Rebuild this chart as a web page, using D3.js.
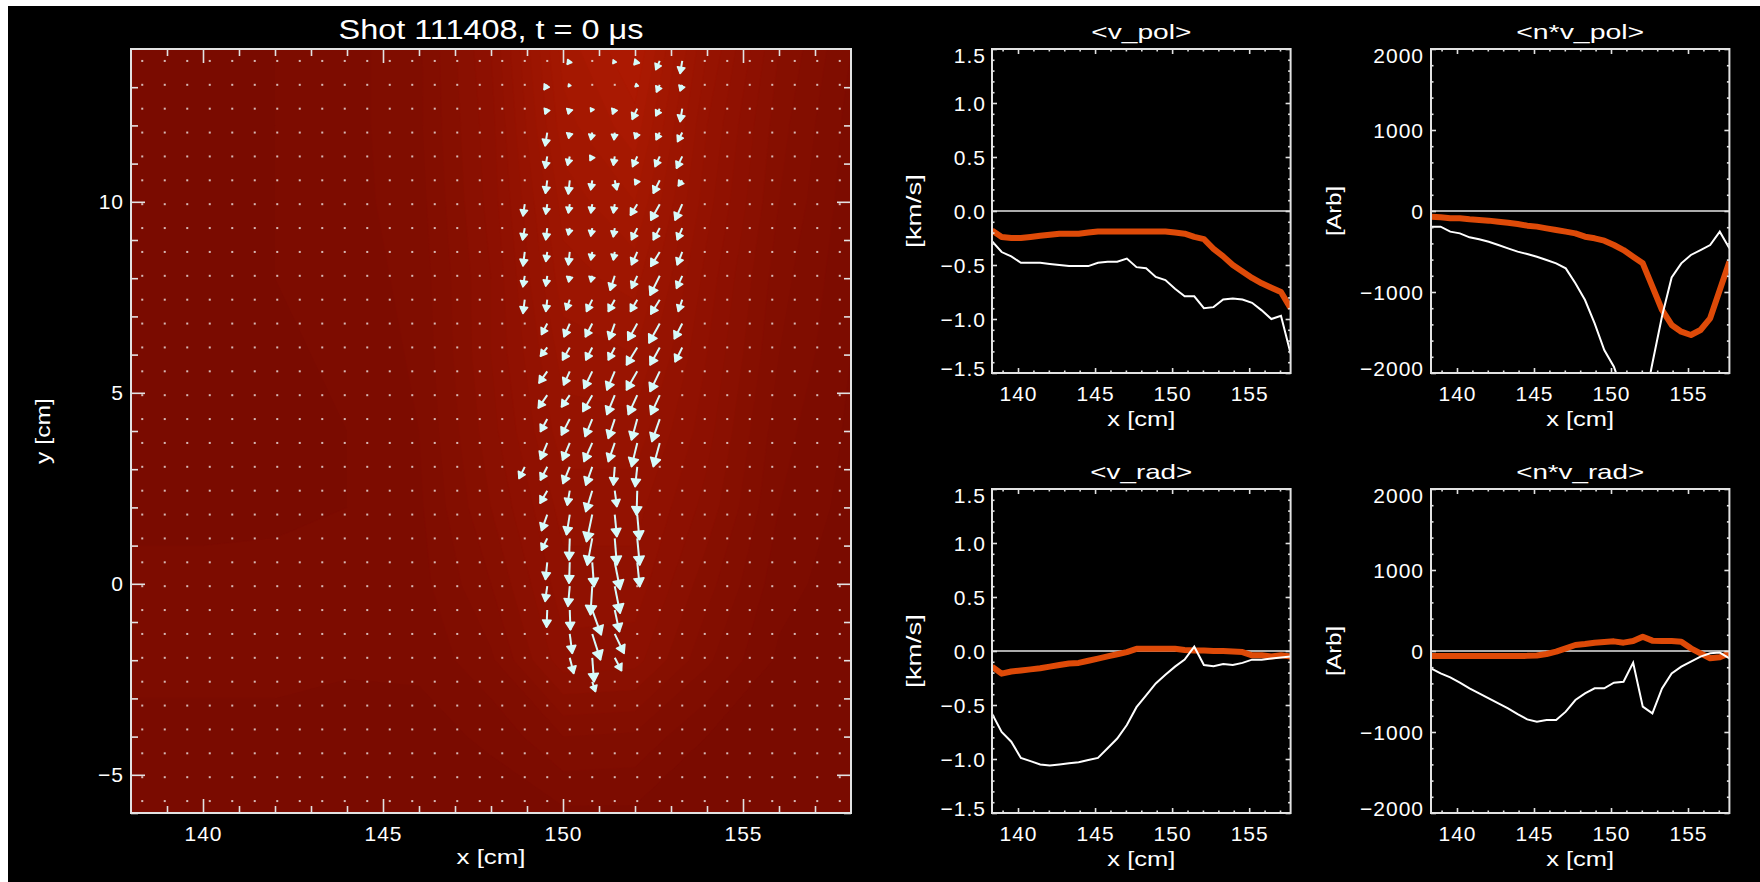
<!DOCTYPE html>
<html>
<head>
<meta charset="utf-8">
<script src="https://cdn.jsdelivr.net/npm/d3@7"></script>
<style>
  html, body { margin: 0; padding: 0; background: #000; }
  svg { display: block; }
  text { font-family: "Liberation Sans", Arial, sans-serif; fill: #fff; }
</style>
</head>
<body>
<svg id="chart" width="1760" height="882"></svg>
<script>
// ---- data ----
const shotTitle = "Shot 111408, t = 0 \u03bcs";

// probe grid (cm)
const gridX = [138.3125, 138.9375, 139.5625, 140.1875, 140.8125, 141.4375, 142.0625, 142.6875,
  143.3125, 143.9375, 144.5625, 145.1875, 145.8125, 146.4375, 147.0625, 147.6875,
  148.3125, 148.9375, 149.5625, 150.1875, 150.8125, 151.4375, 152.0625, 152.6875,
  153.3125, 153.9375, 154.5625, 155.1875, 155.8125, 156.4375, 157.0625, 157.6875];
const gridY = [13.6875, 13.0625, 12.4375, 11.8125, 11.1875, 10.5625, 9.9375, 9.3125,
  8.6875, 8.0625, 7.4375, 6.8125, 6.1875, 5.5625, 4.9375, 4.3125,
  3.6875, 3.0625, 2.4375, 1.8125, 1.1875, 0.5625, -0.0625, -0.6875,
  -1.3125, -1.9375, -2.5625, -3.1875, -3.8125, -4.4375, -5.0625, -5.6875];

// coarse density map behind the vectors (relative units)
const densX = [138, 140, 142, 144, 146, 148, 150, 152, 154, 156, 158];
const densY = [14, 12, 10, 8, 6, 4, 2, 0, -2, -4, -6];
const densRows = [
  [0.02, 0.03, 0.05, 0.08, 0.14, 0.35, 0.72, 0.85, 0.50, 0.25, 0.10],
  [0.02, 0.03, 0.05, 0.08, 0.14, 0.33, 0.68, 0.78, 0.45, 0.22, 0.08],
  [0.02, 0.03, 0.05, 0.08, 0.13, 0.32, 0.62, 0.70, 0.42, 0.20, 0.07],
  [0.02, 0.03, 0.05, 0.07, 0.12, 0.30, 0.58, 0.62, 0.38, 0.17, 0.06],
  [0.02, 0.03, 0.04, 0.06, 0.11, 0.30, 0.52, 0.55, 0.35, 0.15, 0.05],
  [0.02, 0.02, 0.04, 0.05, 0.10, 0.28, 0.48, 0.48, 0.32, 0.12, 0.04],
  [0.02, 0.02, 0.03, 0.05, 0.09, 0.25, 0.42, 0.42, 0.28, 0.10, 0.03],
  [0.08, 0.08, 0.08, 0.07, 0.08, 0.20, 0.38, 0.38, 0.22, 0.07, 0.02],
  [0.08, 0.08, 0.08, 0.06, 0.06, 0.14, 0.33, 0.32, 0.16, 0.04, 0.02],
  [0.02, 0.02, 0.02, 0.02, 0.03, 0.06, 0.15, 0.14, 0.05, 0.02, 0.02],
  [0.01, 0.01, 0.01, 0.01, 0.01, 0.02, 0.04, 0.04, 0.02, 0.01, 0.01]
];

// velocity vectors: [column, row, u (cm), v (cm)]; all other grid points are zero
const arrows = [
  [19,0,-0.07,-0.09],[21,0,-0.05,-0.07],[22,0,-0.09,-0.10],[23,0,-0.11,-0.23],[24,0,-0.06,-0.33],
  [18,1,-0.09,-0.13],[19,1,-0.04,-0.05],[22,1,-0.06,-0.05],[23,1,-0.09,-0.19],[24,1,-0.06,-0.16],
  [18,2,-0.06,-0.14],[19,2,-0.04,-0.14],[20,2,-0.04,-0.08],[21,2,-0.06,-0.14],[22,2,-0.14,-0.28],[23,2,-0.11,-0.19],[24,2,-0.06,-0.34],
  [18,3,-0.06,-0.35],[19,3,-0.03,-0.15],[20,3,-0.04,-0.19],[21,3,-0.02,-0.19],[22,3,-0.06,-0.16],[23,3,-0.10,-0.19],[24,3,-0.13,-0.24],
  [18,4,-0.06,-0.31],[19,4,-0.06,-0.23],[20,4,-0.06,-0.11],[21,4,-0.04,-0.23],[22,4,-0.13,-0.27],[23,4,-0.13,-0.27],[24,4,-0.16,-0.31],
  [18,5,-0.05,-0.34],[19,5,-0.04,-0.36],[20,5,-0.04,-0.25],[21,5,0.06,-0.25],[22,5,-0.06,-0.12],[23,5,-0.18,-0.34],[24,5,-0.11,-0.15],
  [17,6,-0.05,-0.31],[18,6,-0.04,-0.26],[19,6,-0.04,-0.23],[20,6,-0.04,-0.23],[21,6,-0.04,-0.23],[22,6,-0.19,-0.29],[23,6,-0.25,-0.42],[24,6,-0.20,-0.42],
  [17,7,-0.06,-0.31],[18,7,-0.04,-0.31],[19,7,-0.04,-0.18],[20,7,-0.04,-0.21],[21,7,-0.04,-0.23],[22,7,-0.16,-0.31],[23,7,-0.18,-0.31],[24,7,-0.14,-0.31],
  [17,8,-0.05,-0.37],[18,8,-0.04,-0.25],[19,8,-0.04,-0.34],[20,8,-0.04,-0.21],[21,8,-0.04,-0.21],[22,8,-0.16,-0.34],[23,8,-0.25,-0.38],[24,8,-0.14,-0.34],
  [17,9,-0.05,-0.29],[18,9,-0.04,-0.27],[19,9,-0.03,-0.16],[20,9,-0.04,-0.16],[21,9,-0.13,-0.38],[22,9,-0.16,-0.33],[23,9,-0.27,-0.51],[24,9,-0.16,-0.33],
  [17,10,-0.05,-0.36],[18,10,-0.04,-0.31],[19,10,-0.10,-0.27],[20,10,-0.16,-0.31],[21,10,-0.18,-0.31],[22,10,-0.19,-0.31],[23,10,-0.25,-0.38],[24,10,-0.11,-0.31],
  [18,11,-0.16,-0.29],[19,11,-0.16,-0.35],[20,11,-0.19,-0.35],[21,11,-0.16,-0.42],[22,11,-0.26,-0.44],[23,11,-0.30,-0.51],[24,11,-0.22,-0.40],
  [18,12,-0.19,-0.23],[19,12,-0.20,-0.33],[20,12,-0.18,-0.33],[21,12,-0.18,-0.33],[22,12,-0.30,-0.46],[23,12,-0.27,-0.46],[24,12,-0.20,-0.38],
  [18,13,-0.23,-0.31],[19,13,-0.17,-0.36],[20,13,-0.23,-0.45],[21,13,-0.22,-0.49],[22,13,-0.30,-0.49],[23,13,-0.27,-0.53],
  [18,14,-0.25,-0.34],[19,14,-0.23,-0.31],[20,14,-0.26,-0.43],[21,14,-0.22,-0.51],[22,14,-0.25,-0.51],[23,14,-0.25,-0.51],
  [18,15,-0.19,-0.33],[19,15,-0.23,-0.42],[20,15,-0.20,-0.46],[21,15,-0.18,-0.51],[22,15,-0.16,-0.55],[23,15,-0.22,-0.59],
  [18,16,-0.19,-0.43],[19,16,-0.20,-0.45],[20,16,-0.23,-0.49],[21,16,-0.18,-0.49],[22,16,-0.16,-0.62],[23,16,-0.18,-0.62],
  [17,17,-0.16,-0.31],[18,17,-0.19,-0.35],[19,17,-0.19,-0.44],[20,17,-0.18,-0.48],[21,17,-0.04,-0.48],[22,17,-0.06,-0.52],
  [18,18,-0.20,-0.33],[19,18,-0.07,-0.38],[20,18,-0.18,-0.55],[21,18,0.06,-0.42],[22,18,-0.02,-0.64],
  [18,19,-0.16,-0.42],[19,19,-0.09,-0.53],[20,19,-0.16,-0.71],[21,19,0.06,-0.58],[22,19,0.06,-0.66],
  [18,20,-0.16,-0.31],[19,20,-0.02,-0.57],[20,20,-0.14,-0.70],[21,20,0.06,-0.70],[22,20,0.07,-0.70],
  [18,21,-0.05,-0.45],[19,21,-0.02,-0.55],[20,21,0.05,-0.64],[21,21,0.15,-0.71],[22,21,0.07,-0.64],
  [18,22,-0.06,-0.40],[19,22,-0.05,-0.53],[20,22,-0.05,-0.75],[21,22,0.15,-0.71],
  [18,23,-0.02,-0.45],[19,23,0.02,-0.52],[20,23,0.25,-0.65],[21,23,0.13,-0.57],
  [19,24,0.07,-0.51],[20,24,0.23,-0.68],[21,24,0.26,-0.51],
  [19,25,0.11,-0.41],[20,25,0.05,-0.63],[21,25,0.19,-0.34],
  [20,26,0.09,-0.26]
];

// radial profiles on gridX: thick (orange) and thin (white) curves
const vPolThick = [-0.18,-0.24,-0.25,-0.25,-0.24,-0.23,-0.22,-0.21,-0.21,-0.21,-0.20,-0.19,-0.19,-0.19,-0.19,-0.19,
  -0.19,-0.19,-0.19,-0.20,-0.21,-0.24,-0.26,-0.35,-0.42,-0.50,-0.56,-0.62,-0.67,-0.71,-0.75,-0.90];
const vPolThin = [-0.28,-0.38,-0.42,-0.48,-0.48,-0.48,-0.49,-0.50,-0.51,-0.51,-0.51,-0.48,-0.47,-0.47,-0.44,-0.52,
  -0.53,-0.61,-0.64,-0.72,-0.79,-0.79,-0.90,-0.89,-0.82,-0.81,-0.82,-0.85,-0.92,-1.00,-0.97,-1.32];
const nvPolThick = [-70,-78,-90,-90,-103,-111,-119,-132,-144,-160,-181,-193,-214,-235,-255,-276,
  -317,-337,-366,-420,-482,-564,-646,-934,-1222,-1407,-1490,-1531,-1469,-1325,-975,-626];
const nvPolThin = [-193,-193,-255,-276,-325,-350,-379,-420,-461,-502,-531,-564,-605,-646,-708,-893,
  -1099,-1387,-1716,-1922,-2260,-2700,-2480,-1880,-1300,-820,-646,-543,-482,-420,-255,-461];
const vRadThick = [-0.145,-0.21,-0.19,-0.18,-0.17,-0.16,-0.145,-0.13,-0.115,-0.11,-0.09,-0.07,-0.05,-0.03,-0.01,0.02,
  0.02,0.02,0.02,0.02,0.01,0.005,0.005,0.0,0.0,-0.005,-0.01,-0.04,-0.04,-0.05,-0.04,-0.05];
const vRadThin = [-0.58,-0.75,-0.84,-0.99,-1.02,-1.05,-1.06,-1.05,-1.04,-1.03,-1.01,-0.99,-0.90,-0.81,-0.685,-0.52,
  -0.41,-0.30,-0.22,-0.145,-0.08,0.04,-0.13,-0.14,-0.12,-0.13,-0.11,-0.08,-0.08,-0.07,-0.06,-0.05];
const nvRadThick = [-62,-62,-62,-62,-62,-62,-62,-62,-62,-62,-60,-55,-37,-8,33,74,
  86,103,111,119,103,123,177,128,123,123,115,33,-29,-90,-78,-29];
const nvRadThin = [-214,-276,-325,-391,-461,-523,-584,-646,-708,-778,-844,-872,-852,-852,-749,-605,
  -523,-461,-461,-391,-379,-144,-687,-770,-461,-276,-193,-132,-70,-29,-20,-90];

const xTicksMajor = [140, 145, 150, 155];
const xTicksMinor = [139, 141, 142, 143, 144, 146, 147, 148, 149, 151, 152, 153, 154, 156, 157];
const yTicksMain = [10, 5, 0, -5];
const yTicksMainMinor = [13, 12, 11, 9, 8, 7, 6, 4, 3, 2, 1, -1, -2, -3, -4, -6];
const velTicks = [-1.5, -1.0, -0.5, 0.0, 0.5, 1.0, 1.5];
const velTicksMinor = [-1.4,-1.3,-1.2,-1.1,-0.9,-0.8,-0.7,-0.6,-0.4,-0.3,-0.2,-0.1,0.1,0.2,0.3,0.4,0.6,0.7,0.8,0.9,1.1,1.2,1.3,1.4];
const fluxTicks = [-2000, -1000, 0, 1000, 2000];
const fluxTicksMinor = [-1800,-1600,-1400,-1200,-800,-600,-400,-200,200,400,600,800,1200,1400,1600,1800];

// ---- drawing ----
const svg = d3.select("#chart");
const W = 1760, H = 882;
const frameColor = "#e2e2e2";
const orange = "#de4a08";
const arrowColor = "#d6fbfb";

svg.append("rect").attr("width", W).attr("height", H).attr("fill", "#000");
svg.append("rect").attr("width", W).attr("height", 6).attr("fill", "#fff");
svg.append("rect").attr("width", 8).attr("height", H).attr("fill", "#fff");

let defs = svg.append("defs");

function styleTicks(g, size) {
  g.select(".domain").remove();
  g.selectAll(".tick line").attr("stroke", frameColor).attr("stroke-width", 1.6);
  g.selectAll(".tick text")
    .attr("fill", "#fff")
    .style("font-size", size + "px")
    .style("letter-spacing", "1px");
}

// frame with inward ticks on all four sides
function drawFrame(box, x, y, opt) {
  let g = svg.append("g");
  let major = opt.major, minor = opt.minor;

  let bottom = g.append("g").attr("transform", `translate(0,${box.y1})`)
    .call(d3.axisBottom(x).tickValues(opt.xMajor).tickSize(-major).tickPadding(13).tickSizeOuter(0)
      .tickFormat(d3.format("d")));
  styleTicks(bottom, 21);
  let bottomMinor = g.append("g").attr("transform", `translate(0,${box.y1})`)
    .call(d3.axisBottom(x).tickValues(opt.xMinor).tickSize(-minor).tickFormat("").tickSizeOuter(0));
  styleTicks(bottomMinor, 21);

  [opt.xMajor, opt.xMinor].forEach((vals, i) => {
    let t = g.append("g").attr("transform", `translate(0,${box.y0})`)
      .call(d3.axisTop(x).tickValues(vals).tickSize(i ? -minor : -major).tickFormat("").tickSizeOuter(0));
    styleTicks(t, 21);
  });

  let left = g.append("g").attr("transform", `translate(${box.x0},0)`)
    .call(d3.axisLeft(y).tickValues(opt.yMajor).tickSize(-major).tickPadding(opt.yPad).tickSizeOuter(0)
      .tickFormat(opt.yFormat));
  styleTicks(left, 21);
  let [ylo, yhi] = y.domain();
  left.selectAll(".tick text").attr("dy", d => d === yhi ? "0.65em" : (d === ylo ? "0.14em" : "0.34em"));
  let leftMinor = g.append("g").attr("transform", `translate(${box.x0},0)`)
    .call(d3.axisLeft(y).tickValues(opt.yMinor).tickSize(-minor).tickFormat("").tickSizeOuter(0));
  styleTicks(leftMinor, 21);

  [opt.yMajor, opt.yMinor].forEach((vals, i) => {
    let t = g.append("g").attr("transform", `translate(${box.x1},0)`)
      .call(d3.axisRight(y).tickValues(vals).tickSize(i ? -minor : -major).tickFormat("").tickSizeOuter(0));
    styleTicks(t, 21);
  });

  g.append("rect")
    .attr("x", box.x0).attr("y", box.y0)
    .attr("width", box.x1 - box.x0).attr("height", box.y1 - box.y0)
    .attr("fill", "none").attr("stroke", frameColor).attr("stroke-width", 2);
  return g;
}

function label(txt, x, y, size, len, rotate) {
  let t = svg.append("text")
    .attr("text-anchor", "middle")
    .attr("textLength", len)
    .attr("lengthAdjust", "spacingAndGlyphs")
    .style("font-size", size + "px")
    .text(txt);
  if (rotate) t.attr("transform", `translate(${x},${y}) rotate(-90)`);
  else t.attr("x", x).attr("y", y);
  return t;
}

// ---- left panel: vector field over density ----
const L = {x0: 131, x1: 851, y0: 49, y1: 813};
const lx = d3.scaleLinear().domain([138, 158]).range([L.x0, L.x1]);
const ly = d3.scaleLinear().domain([-6, 14]).range([L.y1, L.y0]);

defs.append("clipPath").attr("id", "clipL")
  .append("rect").attr("x", L.x0).attr("y", L.y0).attr("width", L.x1 - L.x0).attr("height", L.y1 - L.y0);

const densColor = d3.scaleLinear().domain([0, 1]).range(["#7a0b00", "#b81d02"]);
const ci = d3.scaleLinear().domain([0.5, densX.length - 0.5]).range([densX[0], densX[densX.length - 1]]);
const cj = d3.scaleLinear().domain([0.5, densY.length - 0.5]).range([densY[0], densY[densY.length - 1]]);
const proj = d3.geoTransform({
  point: function(px, py) { this.stream.point(lx(ci(px)), ly(cj(py))); }
});
const contours = d3.contours()
  .size([densX.length, densY.length])
  .thresholds(d3.range(0.05, 1.0, 0.05))(densRows.flat());

let field = svg.append("g").attr("clip-path", "url(#clipL)");
field.append("rect")
  .attr("x", L.x0).attr("y", L.y0).attr("width", L.x1 - L.x0).attr("height", L.y1 - L.y0)
  .attr("fill", densColor(0));
field.selectAll("path.lvl")
  .data(contours)
  .enter().append("path")
    .attr("class", "lvl")
    .attr("d", d3.geoPath(proj))
    .attr("fill", d => densColor(d.value))
    .attr("stroke", d => densColor(d.value))
    .attr("stroke-width", 0.5);

let moving = new Set(arrows.map(a => a[0] + "," + a[1]));
let still = [];
gridY.forEach((yv, j) => gridX.forEach((xv, i) => {
  if (!moving.has(i + "," + j)) still.push([xv, yv]);
}));

field.selectAll("rect.dot")
  .data(still)
  .enter().append("rect")
    .attr("class", "dot")
    .attr("x", d => lx(d[0]) - 1)
    .attr("y", d => ly(d[1]) - 1)
    .attr("width", 2).attr("height", 2)
    .attr("fill", "#eee6e4")
    .attr("opacity", 0.8);

function headPoints(a) {
  let x0 = lx(gridX[a[0]]), y0 = ly(gridY[a[1]]);
  let x1 = lx(gridX[a[0]] + a[2]), y1 = ly(gridY[a[1]] + a[3]);
  let dx = x1 - x0, dy = y1 - y0, len = Math.hypot(dx, dy) || 1;
  let ux = dx / len, uy = dy / len;
  let hl = Math.min(len, 4 + 0.18 * len), hw = hl * 0.6;
  let bx = x1 - ux * hl, by = y1 - uy * hl;
  return [[x1, y1], [bx - uy * hw, by + ux * hw], [bx + uy * hw, by - ux * hw]];
}

let vec = field.append("g");
vec.selectAll("line")
  .data(arrows)
  .enter().append("line")
    .attr("x1", d => lx(gridX[d[0]]))
    .attr("y1", d => ly(gridY[d[1]]))
    .attr("x2", d => lx(gridX[d[0]] + d[2]))
    .attr("y2", d => ly(gridY[d[1]] + d[3]))
    .attr("stroke", arrowColor)
    .attr("stroke-width", 2);
vec.selectAll("polygon")
  .data(arrows)
  .enter().append("polygon")
    .attr("points", d => headPoints(d).map(p => p.join(",")).join(" "))
    .attr("fill", arrowColor)
    .attr("stroke", arrowColor)
    .attr("stroke-width", 1.5)
    .attr("stroke-linejoin", "round");

drawFrame(L, lx, ly, {
  major: 14, minor: 7,
  xMajor: xTicksMajor, xMinor: xTicksMinor,
  yMajor: yTicksMain, yMinor: yTicksMainMinor,
  yPad: 7, yFormat: d3.format("d")
});

label(shotTitle, (L.x0 + L.x1) / 2, 39, 27, 305);
label("x [cm]", (L.x0 + L.x1) / 2, 864, 21, 69);
label("y [cm]", 50, (L.y0 + L.y1) / 2, 21, 66, true);

// ---- right panels: profiles ----
const panels = [
  {title: "<v_pol>", box: {x0: 992, x1: 1290.6, y0: 49, y1: 373}, dom: [-1.5, 1.5],
   thick: vPolThick, thin: vPolThin, unit: "[km/s]", ticks: velTicks, minor: velTicksMinor, fmt: d3.format(".1f"), pad: 6, tlen: 100, ulen: 74, ux: 921},
  {title: "<n*v_pol>", box: {x0: 1431, x1: 1729.4, y0: 49, y1: 373}, dom: [-2000, 2000],
   thick: nvPolThick, thin: nvPolThin, unit: "[Arb]", ticks: fluxTicks, minor: fluxTicksMinor, fmt: d3.format("d"), pad: 7, tlen: 128, ulen: 50, ux: 1341},
  {title: "<v_rad>", box: {x0: 992, x1: 1290.6, y0: 489, y1: 813}, dom: [-1.5, 1.5],
   thick: vRadThick, thin: vRadThin, unit: "[km/s]", ticks: velTicks, minor: velTicksMinor, fmt: d3.format(".1f"), pad: 6, tlen: 102, ulen: 74, ux: 921},
  {title: "<n*v_rad>", box: {x0: 1431, x1: 1729.4, y0: 489, y1: 813}, dom: [-2000, 2000],
   thick: nvRadThick, thin: nvRadThin, unit: "[Arb]", ticks: fluxTicks, minor: fluxTicksMinor, fmt: d3.format("d"), pad: 7, tlen: 128, ulen: 50, ux: 1341}
];

panels.forEach((p, i) => {
  let b = p.box;
  let x = d3.scaleLinear().domain([gridX[0], gridX[gridX.length - 1]]).range([b.x0, b.x1]);
  let y = d3.scaleLinear().domain(p.dom).range([b.y1, b.y0]);
  let clipId = "clipP" + i;
  defs.append("clipPath").attr("id", clipId)
    .append("rect").attr("x", b.x0).attr("y", b.y0).attr("width", b.x1 - b.x0).attr("height", b.y1 - b.y0);

  let g = svg.append("g").attr("clip-path", `url(#${clipId})`);
  g.append("line")
    .attr("x1", b.x0).attr("x2", b.x1)
    .attr("y1", y(0)).attr("y2", y(0))
    .attr("stroke", "#e6e6e6").attr("stroke-width", 1.5);

  let line = d3.line().x((d, k) => x(gridX[k])).y(d => y(d));
  g.append("path").datum(p.thick)
    .attr("d", line).attr("fill", "none")
    .attr("stroke", orange).attr("stroke-width", 6).attr("stroke-linejoin", "round");
  g.append("path").datum(p.thin)
    .attr("d", line).attr("fill", "none")
    .attr("stroke", "#fff").attr("stroke-width", 2);

  drawFrame(b, x, y, {
    major: 5, minor: 2.5,
    xMajor: xTicksMajor, xMinor: xTicksMinor,
    yMajor: p.ticks, yMinor: p.minor,
    yPad: p.pad, yFormat: p.fmt
  });

  let cx = (b.x0 + b.x1) / 2;
  label(p.title, cx, b.y0 - 10, 21, p.tlen);
  label("x [cm]", cx, b.y1 + 53, 21, 68);
  label(p.unit, p.ux, (b.y0 + b.y1) / 2, 21, p.ulen, true);
});
</script>
</body>
</html>
